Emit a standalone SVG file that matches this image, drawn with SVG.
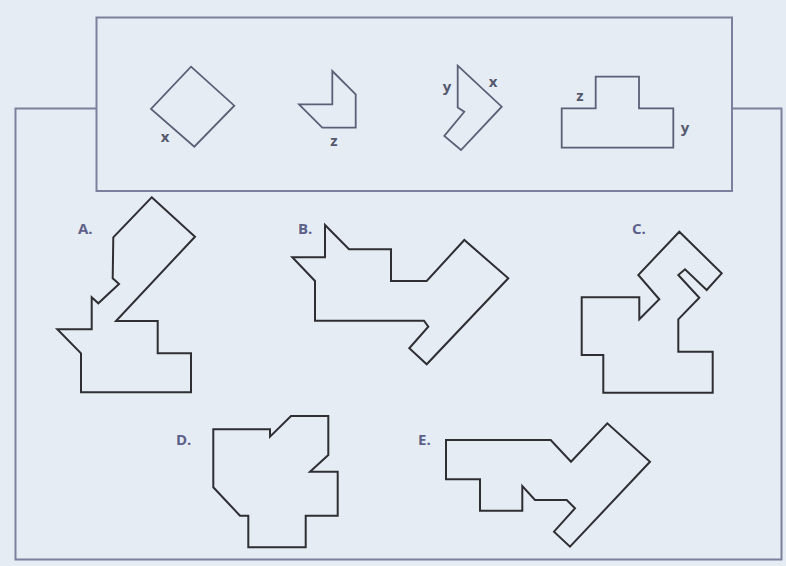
<svg xmlns="http://www.w3.org/2000/svg" width="786" height="566" viewBox="0 0 786 566">
<style>
.frame{fill:none;stroke:#7b809c;stroke-width:2}
.key{fill:none;stroke:#5b6076;stroke-width:1.8;stroke-linejoin:miter}
.opt{fill:none;stroke:#2e2e33;stroke-width:2;stroke-linejoin:miter}
.lbl{font-family:"Open Sans","Noto Sans",sans-serif;font-weight:700;font-size:15px;fill:#5d6088}
.edge{font-family:"Open Sans","Noto Sans",sans-serif;font-weight:700;font-size:15px;fill:#55596e}
</style>
<rect width="786" height="566" fill="#e5ecf4"/>
<g id="connectors">
<polyline class="frame" points="96.5,108.5 15.5,108.5 15.5,559.5 781.5,559.5 781.5,108.5 732,108.5"/>
</g>
<g id="key">
<rect class="frame" x="96.5" y="17.5" width="635.5" height="173.5"/>
<g id="key-square">
<polygon class="key" points="191,66.7 234.3,105.7 194.3,146.7 151,109"/>
<text class="edge" x="165" y="142" text-anchor="middle">x</text>
</g>
<g id="key-z">
<polygon class="key" points="332.3,71 355.7,94.3 355.7,127.7 322.3,127.7 299,104.3 332.3,104.3"/>
<text class="edge" x="334" y="146" text-anchor="middle">z</text>
</g>
<g id="key-chevron">
<polygon class="key" points="457.7,65.7 501.7,106.7 461,150 444.3,136 464.3,111.7 457.7,107.5"/>
<text class="edge" x="447" y="92" text-anchor="middle">y</text>
<text class="edge" x="493" y="87" text-anchor="middle">x</text>
</g>
<g id="key-t">
<polygon class="key" points="595.7,76.7 639,76.7 639,108.3 673.3,108.3 673.3,147.7 561.7,147.7 561.7,108.3 595.7,108.3"/>
<text class="edge" x="580" y="101" text-anchor="middle">z</text>
<text class="edge" x="685" y="133" text-anchor="middle">y</text>
</g>
</g>
<g id="option-a">
<polygon class="opt" points="151.7,197.3 195,236.7 116,321 157.7,321 157.7,353.3 191,353.3 191,392.3 81,392.3 81,353.3 57.3,329.3 91.7,329.3 91.7,297.3 98.3,303.3 119,284 112.7,278.3 113.3,237.3"/>
<text class="lbl" x="78" y="234">A.</text>
</g>
<g id="option-b">
<polygon class="opt" points="325,225 349,249.3 391,249.3 391,281 426.7,281 464.3,240 508.3,278.3 426.7,364.3 409.3,348.3 428.3,326.7 424,320.7 315,320.7 315,281 292.3,257.3 325,257.3"/>
<text class="lbl" x="298" y="234">B.</text>
</g>
<g id="option-c">
<polygon class="opt" points="581.7,297.3 639.3,297.3 639.3,319.3 659.3,299.3 638.3,275 679.3,231.7 721.7,273.3 706.7,290 685,269.3 678.3,275 699.3,297.7 678.3,319.3 678.3,351.7 712.7,351.7 712.7,392.7 603.3,392.7 603.3,355 581.7,355"/>
<text class="lbl" x="632" y="234">C.</text>
</g>
<g id="option-d">
<polygon class="opt" points="213.3,429.3 270,429.3 270,436.7 291,416 328.3,416 328.3,455 310,471.7 337.7,471.7 337.7,515.7 305.7,515.7 305.7,547.3 248.3,547.3 248.3,515.7 240,515.7 213.3,487.3"/>
<text class="lbl" x="176" y="445">D.</text>
</g>
<g id="option-e">
<polygon class="opt" points="446,440 550.7,440 571,461.7 607.3,423.3 650,461.7 570,546.7 554,531.7 575,508.3 566.7,500 535,500 522.3,486 522.3,510.7 480,510.7 480,479.3 446,479.3"/>
<text class="lbl" x="418" y="445">E.</text>
</g>
</svg>
